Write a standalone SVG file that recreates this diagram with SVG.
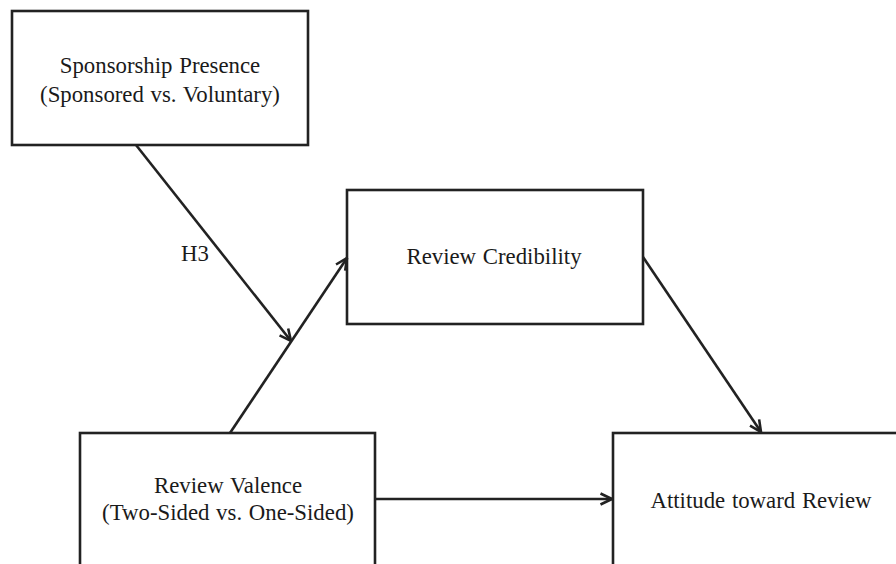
<svg xmlns="http://www.w3.org/2000/svg" width="896" height="564" viewBox="0 0 896 564">
  <defs>
    <style>
      .box { fill: #fff; stroke: #222; stroke-width: 2.6; }
      .lbl { font-family: "Liberation Serif", "Times New Roman", serif; font-size: 22.8px; fill: #1a1a1a; text-anchor: middle; word-spacing: 1px; }
      .edge { stroke: #222; stroke-width: 2.6; fill: none; marker-end: url(#chev); }
    </style>
    <marker id="chev" viewBox="0 0 14 14" refX="13" refY="7" markerWidth="14" markerHeight="14" markerUnits="userSpaceOnUse" orient="auto">
      <path d="M1.5,1.5 L13,7 L1.5,12.5" fill="none" stroke="#222" stroke-width="2.6" stroke-linejoin="miter"/>
    </marker>
  </defs>
  <rect width="896" height="564" fill="#fff"/>

  <g id="sponsorship">
    <rect class="box" x="12" y="11" width="296" height="134"/>
    <text class="lbl" x="160" y="73">Sponsorship Presence</text>
    <text class="lbl" x="160" y="102">(Sponsored vs. Voluntary)</text>
  </g>

  <g id="credibility">
    <rect class="box" x="347" y="190" width="296" height="134"/>
    <text class="lbl" x="494" y="264">Review Credibility</text>
  </g>

  <g id="valence">
    <rect class="box" x="80" y="433" width="295" height="140"/>
    <text class="lbl" x="228" y="493">Review Valence</text>
    <text class="lbl" x="228" y="520">(Two-Sided vs. One-Sided)</text>
  </g>

  <g id="attitude">
    <rect class="box" x="613" y="433" width="300" height="140"/>
    <text class="lbl" x="761" y="508">Attitude toward Review</text>
  </g>

  <g id="connectors">
    <line class="edge" x1="136" y1="145" x2="291" y2="341"/>
    <line class="edge" x1="230" y1="433" x2="347" y2="258"/>
    <line class="edge" x1="643" y1="257" x2="761" y2="432"/>
    <line class="edge" x1="375" y1="499" x2="612" y2="499"/>
    <text class="lbl" x="195" y="261">H3</text>
  </g>
</svg>
